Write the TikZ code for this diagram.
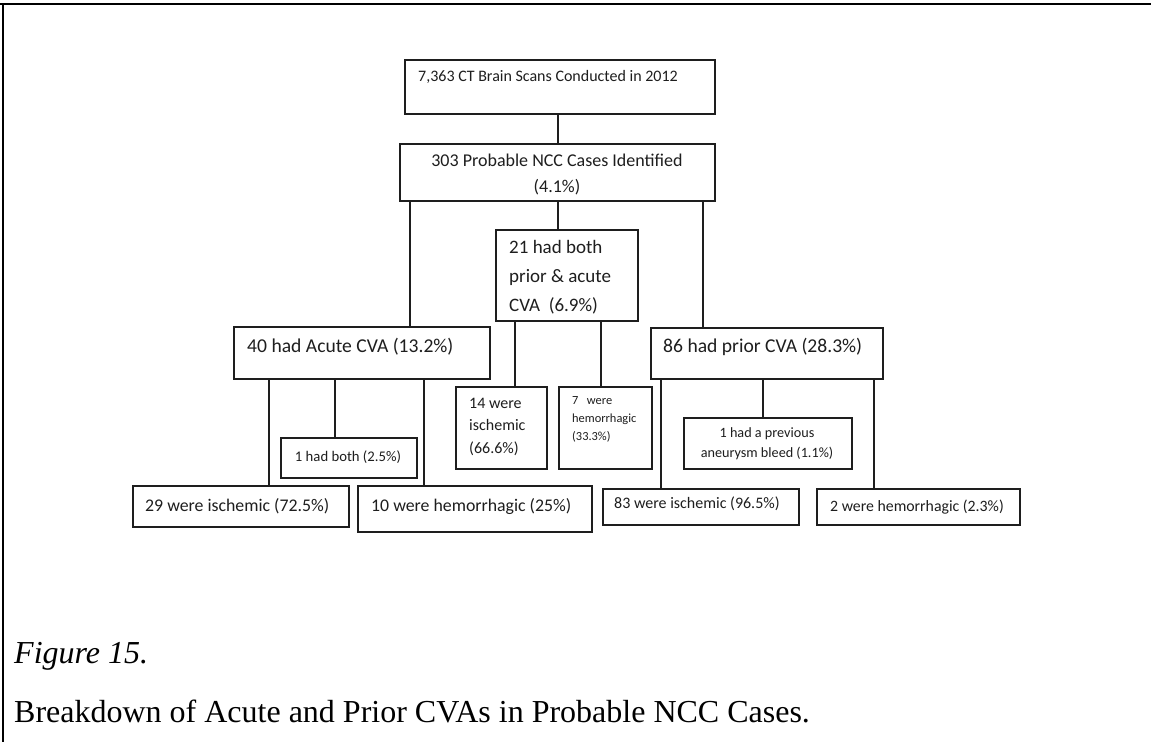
\documentclass[tikz,border=0pt]{standalone}
\usepackage{fontspec}
\setmainfont{Carlito}
\newfontfamily\capfont{Liberation Serif}
\definecolor{ink}{HTML}{1E1E1E}
\begin{document}
\begin{tikzpicture}[x=1pt,y=-1pt,
  box/.style={draw=ink, line width=1.7pt, inner sep=0pt, anchor=north west},
  link/.style={draw=ink, line width=1.4pt},
  lbl/.style={inner sep=0pt, text=ink, anchor=west, align=left},
  clbl/.style={inner sep=0pt, text=ink, align=center},
  frame/.style={draw=black, line width=2.6pt},
  caption/.style={inner sep=0pt, anchor=base west, text=black,
    font=\capfont\fontsize{32}{38}\selectfont}]
\useasboundingbox (0,0) rectangle (1151,742);
\fill[white] (0,0) rectangle (1151,742);

% page rules
\draw[frame] (0,4) -- (1151,4);
\draw[frame] (3,4) -- (3,742);

% boxes
\node[box, minimum width=310pt, minimum height=54pt] (scans) at (404,59) {};
\node[box, minimum width=315pt, minimum height=57pt] (ncc) at (399,143) {};
\node[box, minimum width=142pt, minimum height=91pt] (both) at (495,229) {};
\node[box, minimum width=256pt, minimum height=52pt] (acute) at (233,326) {};
\node[box, minimum width=232pt, minimum height=51pt] (prior) at (650,327) {};
\node[box, minimum width=91pt, minimum height=82pt] (bothIsch) at (455,386) {};
\node[box, minimum width=93pt, minimum height=82pt] (bothHem) at (558,386) {};
\node[box, minimum width=136pt, minimum height=40pt] (acuteBoth) at (280,437) {};
\node[box, minimum width=216pt, minimum height=41pt] (acuteIsch) at (132,485) {};
\node[box, minimum width=234pt, minimum height=46pt] (acuteHem) at (357,485) {};
\node[box, minimum width=168pt, minimum height=51pt] (aneur) at (683,417) {};
\node[box, minimum width=196pt, minimum height=36pt] (priorIsch) at (602,488) {};
\node[box, minimum width=203pt, minimum height=36pt] (priorHem) at (816,488) {};

% box texts
\node[lbl, font=\fontsize{16}{19}\selectfont] (scansT) at (418,77)
  {7,363 CT Brain Scans Conducted in 2012};
\node[clbl, font=\fontsize{18}{26}\selectfont] (nccT) at (557,174)
  {303 Probable NCC Cases Identified\\(4.1\%)};
\node[lbl, font=\fontsize{19}{29}\selectfont] (bothT) at (509,277)
  {21 had both\\prior \& acute\\CVA\ \ (6.9\%)};
\node[lbl, font=\fontsize{19.6}{23}\selectfont] (acuteT) at (247,347)
  {40 had Acute CVA (13.2\%)};
\node[lbl, font=\fontsize{19.6}{23}\selectfont] (priorT) at (663,347)
  {86 had prior CVA (28.3\%)};
\node[lbl, font=\fontsize{16}{22.5}\selectfont] (bothIschT) at (469,426.5)
  {14 were\\ischemic\\(66.6\%)};
\node[lbl, font=\fontsize{12.4}{18}\selectfont] (bothHemT) at (572,419)
  {7\ \ \ were\\hemorrhagic\\(33.3\%)};
\node[clbl, font=\fontsize{14.7}{18}\selectfont] (acuteBothT) at (348,457)
  {1 had both (2.5\%)};
\node[lbl, font=\fontsize{17.8}{21}\selectfont] (acuteIschT) at (145,506)
  {29 were ischemic (72.5\%)};
\node[lbl, font=\fontsize{17.8}{21}\selectfont] (acuteHemT) at (371,507)
  {10 were hemorrhagic (25\%)};
\node[clbl, font=\fontsize{14.2}{20}\selectfont] (aneurT) at (767,444)
  {1 had a previous\\aneurysm bleed (1.1\%)};
\node[lbl, font=\fontsize{16}{19}\selectfont] (priorIschT) at (614,504)
  {83 were ischemic (96.5\%)};
\node[clbl, font=\fontsize{15.8}{19}\selectfont] (priorHemT) at (917,507)
  {2 were hemorrhagic (2.3\%)};

% connectors
\draw[link] (scans.south -| 558,0) -- (ncc.north -| 558,0);
\draw[link] (ncc.south -| 410,0) -- (acute.north -| 410,0);
\draw[link] (ncc.south -| 558,0) -- (both.north -| 558,0);
\draw[link] (ncc.south -| 703,0) -- (prior.north -| 703,0);
\draw[link] (acute.south -| 269,0) -- (acuteIsch.north -| 269,0);
\draw[link] (acute.south -| 335,0) -- (acuteBoth.north -| 335,0);
\draw[link] (acute.south -| 424,0) -- (acuteHem.north -| 424,0);
\draw[link] (both.south -| 515,0) -- (bothIsch.north -| 515,0);
\draw[link] (both.south -| 601,0) -- (bothHem.north -| 601,0);
\draw[link] (prior.south -| 661,0) -- (priorIsch.north -| 661,0);
\draw[link] (prior.south -| 763,0) -- (aneur.north -| 763,0);
\draw[link] (prior.south -| 874,0) -- (priorHem.north -| 874,0);

% caption
\node[caption] (figno) at (14,663) {\textit{Figure 15.}};
\node[caption] (figtitle) at (14,722)
  {Breakdown of Acute and Prior CVAs in Probable NCC Cases.};
\end{tikzpicture}
\end{document}
